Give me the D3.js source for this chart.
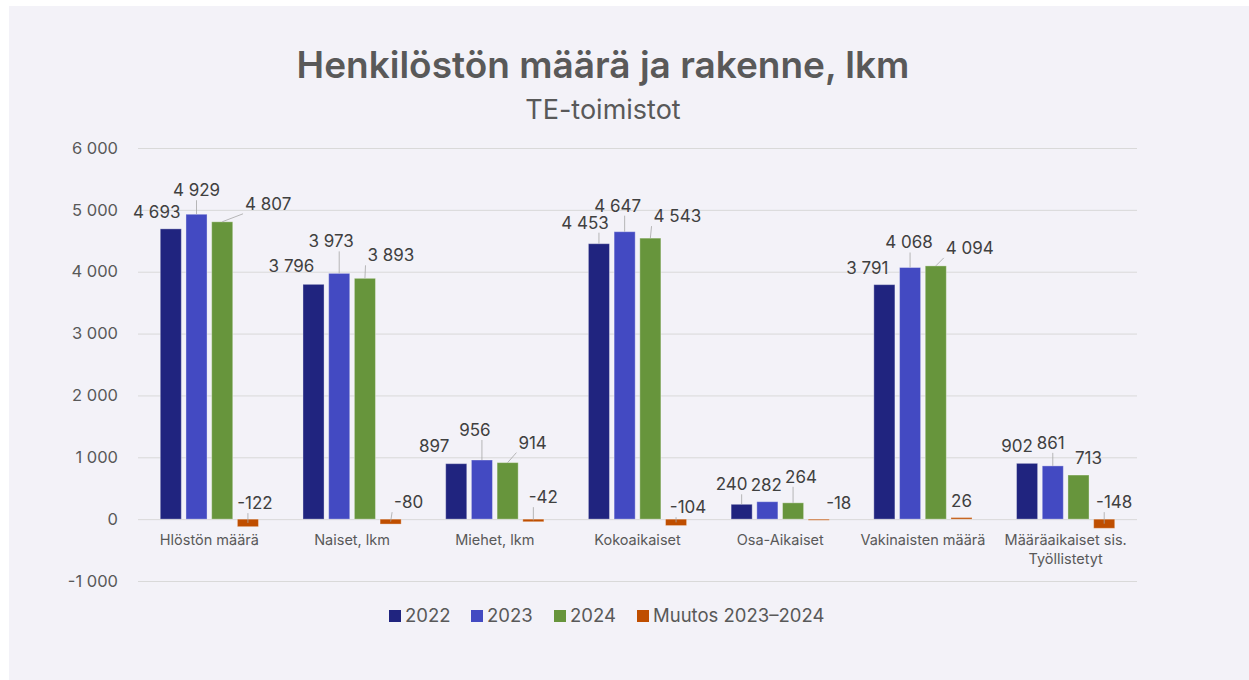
<!DOCTYPE html>
<html><head><meta charset="utf-8">
<script src="https://cdn.jsdelivr.net/npm/d3@7"></script>
<style>
html,body{margin:0;padding:0;background:#fff;}
svg{display:block;font-family:Inter,"Open Sans","Noto Sans",sans-serif;}
</style></head>
<body><svg id="c" width="1249" height="680"></svg>
<script>
const categories = ["Hlöstön määrä","Naiset, lkm","Miehet, lkm","Kokoaikaiset","Osa-Aikaiset","Vakinaisten määrä","Määräaikaiset sis. Työllistetyt"];
const seriesNames = ["2022","2023","2024","Muutos 2023–2024"];
const v2022 = [4693,3796,897,4453,240,3791,902];
const v2023 = [4929,3973,956,4647,282,4068,861];
const v2024 = [4807,3893,914,4543,264,4094,713];
const vChange = [-122,-80,-42,-104,-18,26,-148];
const yTicks = [-1000,0,1000,2000,3000,4000,5000,6000];
const colors = ["#20247f","#434ac2","#67953c","#bf4e00"];
// label nudges [dx, dy, leader] relative to bar top-centre, per series per category
const labelNudge = [
  [[-14,-17,0],[-22,-18,0],[-22,-18,0],[-14,-21,1],[-10,-20,1],[-17,-17,0],[-10,-17,0]],
  [[0,-24,1],[-8,-32,1],[-7,-30,1],[-7,-26,1],[-1,-17,0],[-1,-25,1],[-2,-23,1]],
  [[46,-18,1],[26,-23,1],[25,-20,1],[27,-22,1],[8,-26,1],[34,-18,1],[10,-17,0]],
  [[7,-16,1],[18,-17,1],[10,-22,1],[12,-12,1],[20,-16,0],[0,-16,0],[10,-17,1]]
];

const seriesValues = [v2022,v2023,v2024,vChange];
const svg = d3.select("#c");
const W=1249,H=680;
svg.append("rect").attr("x",9).attr("y",6).attr("width",W-9).attr("height",H-6).attr("fill","#f3f2f8");

const plot = {left:138,right:1137,top:148,bottom:581};
const y = d3.scaleLinear().domain([-1000,6000]).range([plot.bottom,plot.top]);
const x0 = d3.scaleBand().domain(categories).range([plot.left,plot.right]).padding(0);
const groupW = 98.2;
const x1 = d3.scaleBand().domain(seriesNames).range([0,groupW]).paddingInner(0.18).paddingOuter(0);
const gOff = (x0.bandwidth()-groupW)/2;

// title
svg.append("text").attr("x",603).attr("y",78).attr("text-anchor","middle")
  .attr("font-size",37).attr("font-weight",600).attr("fill","#595959").text("Henkilöstön määrä ja rakenne, lkm");
svg.append("text").attr("x",603).attr("y",119).attr("text-anchor","middle")
  .attr("font-size",27).attr("fill","#595959").text("TE-toimistot");

// grid + y axis
const fmt = v => (v<0?"-":"") + d3.format(",")(Math.abs(v)).replace(/,/g," ");
const yAxis = d3.axisLeft(y).tickValues(yTicks).tickSize(-(plot.right-plot.left)).tickFormat(fmt).tickPadding(20);
const ga = svg.append("g").attr("transform",`translate(${plot.left},0)`).call(yAxis);
ga.select(".domain").remove();
ga.selectAll(".tick line").attr("stroke","#d9d9d9").attr("stroke-width",1);
ga.selectAll(".tick text").attr("font-size",16.5).attr("fill","#595959").attr("font-family","Inter,'Open Sans',sans-serif");

// x axis labels
const xAxis = d3.axisBottom(x0).tickSize(0).tickPadding(0);
const gx = svg.append("g").attr("transform",`translate(0,${y(0)})`).call(xAxis);
gx.select(".domain").remove();
gx.selectAll(".tick text").each(function(d){
  const t = d3.select(this);
  t.text(null).attr("font-size",14.5).attr("fill","#595959").attr("font-family","Inter,'Open Sans',sans-serif").attr("y",null).attr("dy",null);
  let lines = d==="Määräaikaiset sis. Työllistetyt" ? ["Määräaikaiset sis.","Työllistetyt"] : [d];
  lines.forEach((ln,i)=>t.append("tspan").attr("x",0).attr("y",26+i*19).text(ln));
});

// bars
const gb = svg.append("g");
seriesValues.forEach((vals,si)=>{
  gb.selectAll(null).data(vals).enter().append("rect")
    .attr("x",(d,i)=>x0(categories[i])+gOff+x1(seriesNames[si]))
    .attr("y",d=>y(Math.max(d,0)))
    .attr("width",x1.bandwidth())
    .attr("height",d=>Math.abs(y(d)-y(0)))
    .attr("fill",colors[si])
    .attr("stroke","rgba(255,255,255,0.35)").attr("stroke-width",1);
});

// labels
const gl = svg.append("g");
seriesValues.forEach((vals,si)=>{
  vals.forEach((v,i)=>{
    const bx = x0(categories[i])+gOff+x1(seriesNames[si])+x1.bandwidth()/2;
    const by = y(Math.max(v,0));
    const [dx,dy,lead] = labelNudge[si][i];
    const lx = bx+dx, ly = by+dy;
    const txt = fmt(v);
    const t = gl.append("text").attr("x",lx).attr("y",ly).attr("dy","0.35em").attr("text-anchor","middle")
      .attr("font-size",17).attr("fill","#404040").text(txt);
    if(lead){
      const bb = t.node().getBBox();
      const ax = bx, ay = v<0 ? y(v/2) : by;
      const hx0=bb.x-2,hx1=bb.x+bb.width+2,hy0=ly-8,hy1=ly+10;
      const sx = Math.max(hx0,Math.min(hx1,ax)), sy = Math.max(hy0,Math.min(hy1,ay));
      gl.append("line").attr("x1",sx).attr("y1",sy).attr("x2",ax).attr("y2",ay)
        .attr("stroke","#a6a6a6").attr("stroke-width",0.8);
    }
  });
});

// legend
const legX = [389,471,554,637];
const gLeg = svg.append("g");
seriesNames.forEach((n,i)=>{
  gLeg.append("rect").attr("x",legX[i]).attr("y",610).attr("width",12).attr("height",12).attr("fill",colors[i]);
  gLeg.append("text").attr("x",legX[i]+16).attr("y",616).attr("dy","0.35em").attr("font-size",18.5).attr("fill","#595959").text(n);
});
</script></body></html>
